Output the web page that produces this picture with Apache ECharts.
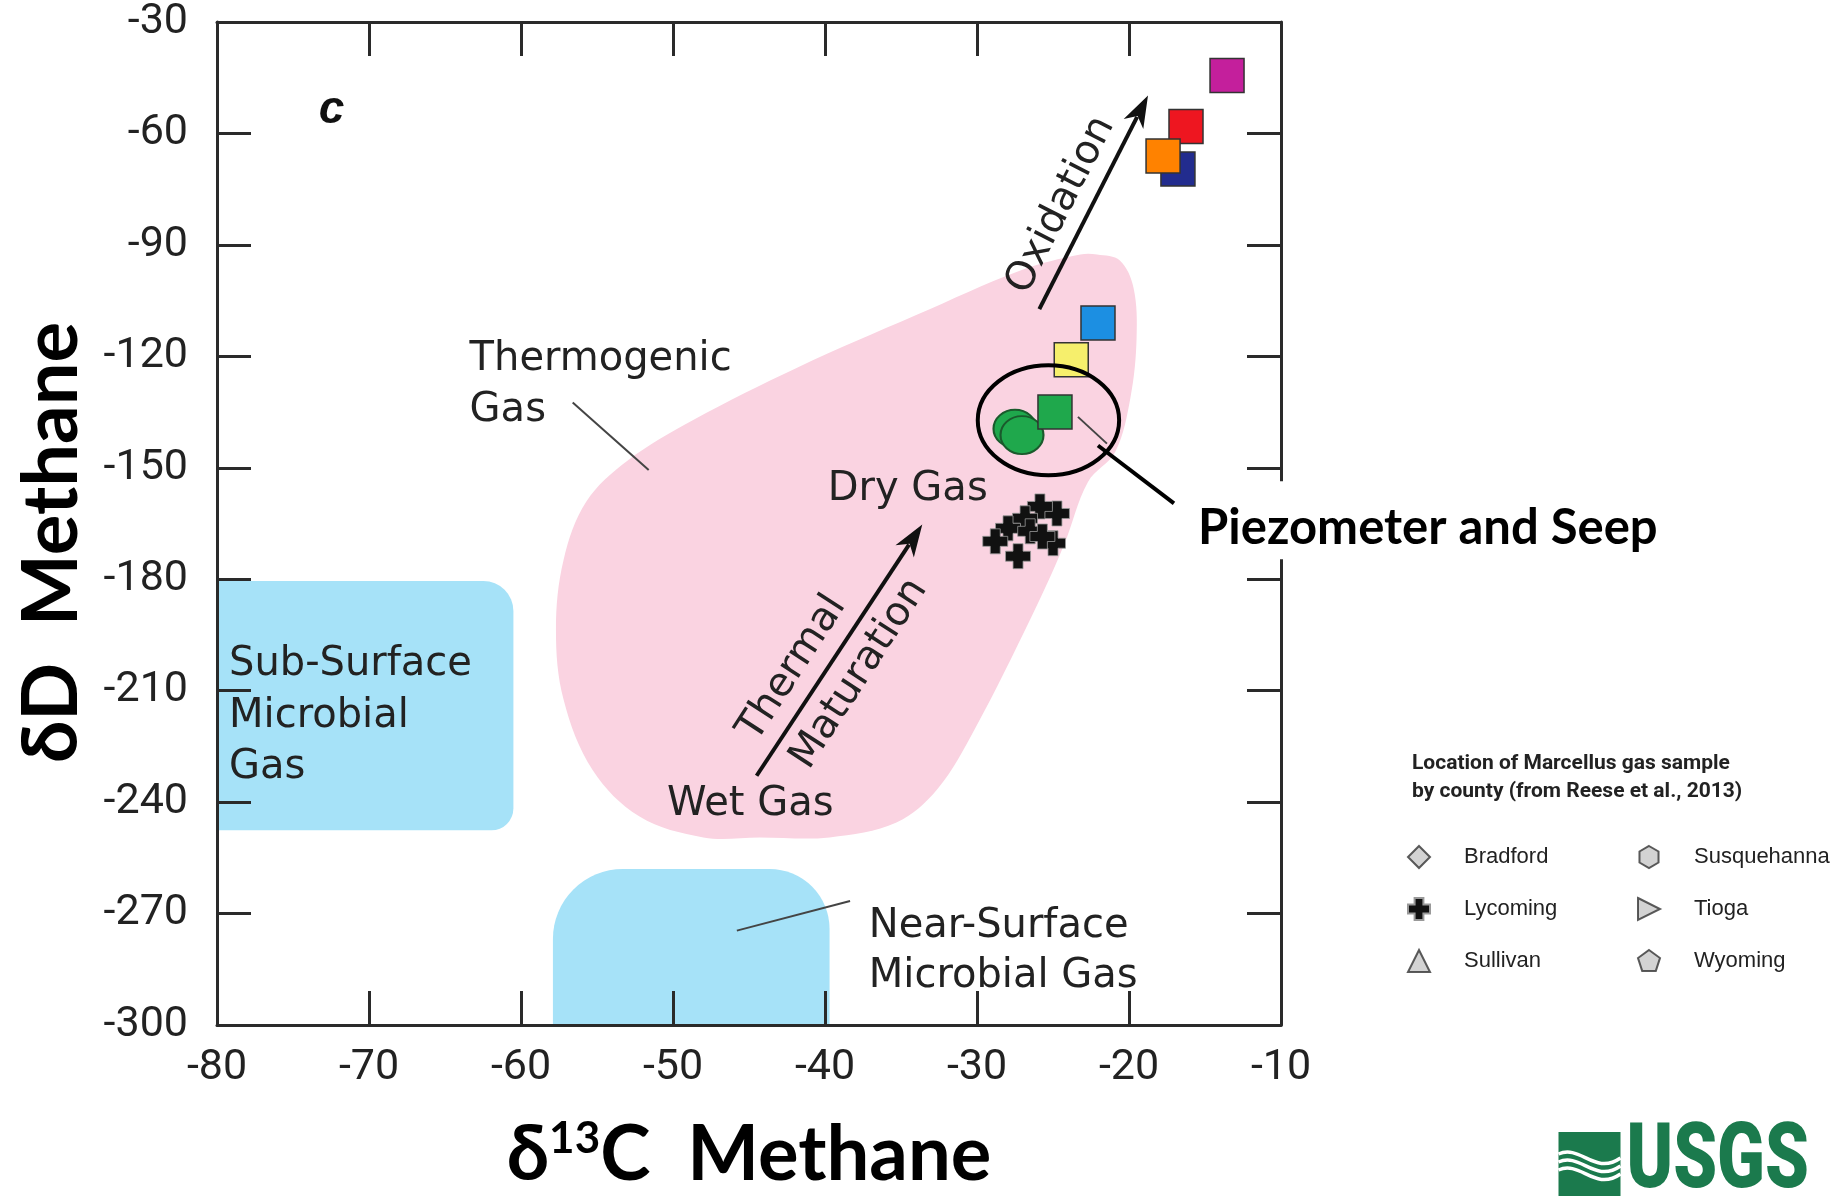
<!DOCTYPE html>
<html>
<head>
<meta charset="utf-8">
<script src="https://cdn.jsdelivr.net/npm/echarts@6/dist/echarts.min.js"></script>
<style>
html,body{margin:0;padding:0;background:#ffffff;}
#chart{width:1841px;height:1198px;}
</style>
</head>
<body>
<div id="chart"></div>
<script>
// ---------------- DATA ----------------
const xTicks = [-80, -70, -60, -50, -40, -30, -20, -10];
const yTicks = [-300, -270, -240, -210, -180, -150, -120, -90, -60, -30];

// Piezometer / seep samples (squares), drawn in this order
const sampleX = [-13.55, -16.25, -16.78, -17.76, -22.04, -23.8, -24.87];
const sampleY = [-44.4, -58.1, -69.6, -66.1, -111.0, -120.9, -135.0];
// Seep samples (circles)
const seepX = [-27.5, -27.04];
const seepY = [-139.5, -141.2];
// Lycoming county Marcellus gas (Reese et al., 2013)
const lycomingX = [-24.74, -25.86, -26.84, -27.96, -25.0, -27.3, -28.8, -26.5, -25.7];
const lycomingY = [-162.3, -160.4, -163.6, -166.3, -170.3, -173.8, -169.8, -167.1, -168.5];
// Counties without points in this panel
const bradfordX = [], bradfordY = [];
const sullivanX = [], sullivanY = [];
const susquehannaX = [], susquehannaY = [];
const tiogaX = [], tiogaY = [];
const wyomingX = [], wyomingY = [];

// Genetic field outlines (data units)
const thermoX = [-22.1, -20.6, -19.7, -19.5, -19.9, -20.9, -22.7, -24.3, -26.4, -30.1, -32.6, -35.3, -39.7, -44.3, -48.0, -52.2, -55.3, -57.2, -57.7, -57.2, -55.7, -53.0, -48.7, -41.8, -34.0, -27.1, -23.2];
const thermoY = [-92.6, -94.2, -101.6, -115.0, -131.0, -145.7, -153.8, -171.0, -190.0, -220.0, -236.5, -245.5, -249.5, -249.5, -249.5, -243.9, -231.3, -212.4, -193.6, -174.8, -159.1, -148.1, -137.2, -123.0, -108.9, -96.8, -92.6];
const subSurfaceX = [-80, -60.5];
const subSurfaceY = [-180.5, -247.6];
const nearSurfaceX = [-57.9, -39.7];
const nearSurfaceY = [-258, -300];

// ---------------- STYLE ----------------
const sampleColors = ['#c41f9c', '#ee1620', '#222c8e', '#ff8200', '#1c8fe2', '#f6ef6c', '#1fa84c'];
const FONT_TICK = "Roboto,'DejaVu Sans Condensed',sans-serif";
const FONT_ANN = "'DejaVu Sans',sans-serif";
const FONT_BIG = "Lato,'Open Sans',sans-serif";
const AX = '#2a2a2a';
const PINK = '#fad3e1';
const BLUE = '#a6e2f8';
const GRAY = '#c8c8c8';
const USGS_GREEN = '#1b7a4d';

const crossPath = 'path://M6,0H14V6H20V14H14V20H6V14H0V6H6Z';
const hexPath = 'path://M10,0L18.66,5V15L10,20L1.34,15V5Z';
const tioPath = 'path://M0,0L20,10L0,20Z';
const pentPath = 'path://M10,0L20,7.3L16.2,19L3.8,19L0,7.3Z';

// annotation layout (anchored in data space)
const texts = [
  {t: 'Thermogenic', p: [-63.38, -120.8]},
  {t: 'Gas', p: [-63.38, -134.6]},
  {t: 'Dry Gas', p: [-39.82, -155.9]},
  {t: 'Wet Gas', p: [-50.4, -240.7]},
  {t: 'Sub-Surface', p: [-79.21, -203.0]},
  {t: 'Microbial', p: [-79.21, -217.1]},
  {t: 'Gas', p: [-79.21, -230.6]},
  {t: 'Near-Surface', p: [-37.12, -273.6]},
  {t: 'Microbial Gas', p: [-37.12, -287.1]},
  {t: 'Thermal', p: [-42.14, -204.0], rot: 57, align: 'center'},
  {t: 'Maturation', p: [-37.74, -205.5], rot: 57, align: 'center'},
  {t: 'Oxidation', p: [-24.47, -79.3], rot: 63, align: 'center'}
];
const arrows = [
  {from: [-44.5, -232.9], to: [-33.6, -165.3]},
  {from: [-25.9, -107.3], to: [-18.75, -49.8]}
];
const leaders = [
  {from: [-56.6, -132.4], to: [-51.6, -150.6]},
  {from: [-45.8, -274.6], to: [-38.35, -266.6]},
  {from: [-23.36, -136.3], to: [-21.45, -143.5]}
];

function toPairs(xs, ys) { return xs.map((x, i) => [x, ys[i]]); }

function arrowEls(api, p0, p1) {
  const a = api.coord(p0), b = api.coord(p1);
  const dx = b[0] - a[0], dy = b[1] - a[1], L = Math.hypot(dx, dy);
  const ux = dx / L, uy = dy / L, hl = 32, hw = 11;
  const bx = b[0] - ux * hl, by = b[1] - uy * hl;
  return [
    {type: 'line', shape: {x1: a[0], y1: a[1], x2: bx + ux * 8, y2: by + uy * 8}, style: {stroke: '#111', lineWidth: 4}},
    {type: 'polygon', shape: {points: [[b[0], b[1]], [bx - uy * hw, by + ux * hw], [bx + ux * 9, by + uy * 9], [bx + uy * hw, by - ux * hw]]}, style: {fill: '#111'}}
  ];
}

const chart = echarts.init(document.getElementById('chart'));

const axisCommon = {
  type: 'value',
  min: xTicks[0], max: xTicks[xTicks.length - 1], interval: xTicks[1] - xTicks[0],
  z: 5,
  axisLine: {show: true, onZero: false, lineStyle: {color: AX, width: 3}},
  axisTick: {show: true, inside: true, length: 34, lineStyle: {color: AX, width: 3}},
  splitLine: {show: false}
};
const yCommon = Object.assign({}, axisCommon, {
  min: yTicks[0], max: yTicks[yTicks.length - 1], interval: yTicks[1] - yTicks[0]
});

const option = {
  backgroundColor: '#ffffff',
  animation: false,
  title: {
    text: 'Location of Marcellus gas sample\nby county (from Reese et al., 2013)',
    left: 1412, top: 750, padding: 0,
    textStyle: {fontFamily: "Roboto,sans-serif", fontWeight: 'bold', fontSize: 21, lineHeight: 28, color: '#222'}
  },
  grid: {left: 217, right: 560, top: 22, bottom: 166, show: false},
  xAxis: [
    Object.assign({}, axisCommon, {
      position: 'bottom',
      axisLabel: {margin: 22, fontFamily: FONT_TICK, fontSize: 43, color: '#222', showMinLabel: true, showMaxLabel: true},
      name: '{a|δ}{s|13}{a|C  Methane}',
      nameLocation: 'middle', nameGap: 92,
      nameTextStyle: {
        rich: {
          a: {fontFamily: FONT_BIG, fontWeight: 'bold', fontSize: 76, color: '#000'},
          s: {fontFamily: FONT_BIG, fontWeight: 'bold', fontSize: 44, color: '#000', verticalAlign: 'top'}
        }
      }
    }),
    Object.assign({}, axisCommon, {position: 'top', axisLabel: {show: false}})
  ],
  yAxis: [
    Object.assign({}, yCommon, {
      position: 'left',
      axisLabel: {margin: 29, fontFamily: FONT_TICK, fontSize: 43, color: '#222', showMinLabel: true, showMaxLabel: true},
      name: 'δD  Methane',
      nameLocation: 'middle', nameRotate: 90, nameGap: 127,
      nameTextStyle: {fontFamily: FONT_BIG, fontWeight: 'bold', fontSize: 76, color: '#000', padding: [0, 38, 0, 0]}
    }),
    Object.assign({}, yCommon, {position: 'right', axisLabel: {show: false}})
  ],
  legend: [
    {
      orient: 'vertical', left: 1407, top: 845, padding: 0,
      itemWidth: 22, itemHeight: 22, itemGap: 28,
      textStyle: {fontFamily: "'Liberation Sans',Arial,sans-serif", fontSize: 22, color: '#222', padding: [0, 0, 0, 29]},
      data: [{name: 'Bradford', icon: 'diamond'}, {name: 'Lycoming', icon: crossPath}, {name: 'Sullivan', icon: 'triangle'}]
    },
    {
      orient: 'vertical', left: 1637, top: 845, padding: 0,
      itemWidth: 22, itemHeight: 22, itemGap: 28,
      textStyle: {fontFamily: "'Liberation Sans',Arial,sans-serif", fontSize: 22, color: '#222', padding: [0, 0, 0, 29]},
      data: [{name: 'Susquehanna', icon: hexPath}, {name: 'Tioga', icon: tioPath}, {name: 'Wyoming', icon: pentPath}]
    }
  ],
  graphic: [
    {
      type: 'group', left: 1556, top: 1119, silent: true,
      children: [
        {type: 'rect', shape: {x: 0, y: 0, width: 62, height: 64}, style: {fill: USGS_GREEN}},
        {type: 'bezierCurve', shape: {x1: 0, y1: 22, cpx1: 22, cpy1: 12, cpx2: 36, cpy2: 44, x2: 62, y2: 26}, style: {stroke: '#fff', lineWidth: 3.5, fill: null}},
        {type: 'bezierCurve', shape: {x1: 0, y1: 30, cpx1: 22, cpy1: 20, cpx2: 36, cpy2: 52, x2: 62, y2: 34}, style: {stroke: '#fff', lineWidth: 3.5, fill: null}},
        {type: 'bezierCurve', shape: {x1: 0, y1: 38, cpx1: 22, cpy1: 28, cpx2: 36, cpy2: 60, x2: 62, y2: 42}, style: {stroke: '#fff', lineWidth: 3.5, fill: null}},
        {type: 'text', x: 68, y: 32, scaleX: 0.78, style: {text: 'USGS', font: "900 90px Roboto", fill: USGS_GREEN, verticalAlign: 'middle'}},
        {type: 'text', x: 0, y: 68, scaleX: 0.8, style: {text: 'science for a changing world', font: "italic bold 24px Roboto", fill: USGS_GREEN, verticalAlign: 'top'}}
      ]
    }
  ],
  series: [
    {
      type: 'custom', name: 'Thermogenic Gas', z: 1, silent: true,
      data: [[thermoX[0], thermoY[0]]],
      renderItem: (params, api) => ({
        type: 'polygon',
        shape: {points: thermoX.map((x, i) => api.coord([x, thermoY[i]])), smooth: 0.35},
        style: {fill: PINK}
      })
    },
    {
      type: 'custom', name: 'Microbial Gas', z: 1, silent: true,
      data: [[subSurfaceX[0], subSurfaceY[0]]],
      renderItem: (params, api) => {
        const a = api.coord([subSurfaceX[0], subSurfaceY[0]]), b = api.coord([subSurfaceX[1], subSurfaceY[1]]);
        const c = api.coord([nearSurfaceX[0], nearSurfaceY[0]]), d = api.coord([nearSurfaceX[1], nearSurfaceY[1]]);
        return {type: 'group', children: [
          {type: 'rect', shape: {x: a[0], y: a[1], width: b[0] - a[0], height: b[1] - a[1], r: [0, 30, 22, 0]}, style: {fill: BLUE}},
          {type: 'rect', shape: {x: c[0], y: c[1], width: d[0] - c[0], height: d[1] - c[1], r: [70, 60, 0, 0]}, style: {fill: BLUE}}
        ]};
      }
    },
    {
      type: 'custom', name: 'Annotations', z: 3, silent: true,
      data: [[xTicks[0], yTicks[0]]],
      renderItem: (params, api) => {
        const ch = [];
        texts.forEach(o => {
          const p = api.coord(o.p);
          ch.push({type: 'text', x: p[0], y: p[1], rotation: (o.rot || 0) * Math.PI / 180,
            style: {text: o.t, font: "40px " + FONT_ANN, fill: '#222', align: o.align || 'left', verticalAlign: 'middle'}});
        });
        const cp = api.coord([-73.3, -53.9]);
        ch.push({type: 'text', x: cp[0], y: cp[1], style: {text: 'c', font: "italic bold 46px 'Liberation Sans',Arial", fill: '#111', verticalAlign: 'middle'}});
        arrows.forEach(o => { arrowEls(api, o.from, o.to).forEach(e => ch.push(e)); });
        leaders.forEach(o => {
          const a = api.coord(o.from), b = api.coord(o.to);
          ch.push({type: 'line', shape: {x1: a[0], y1: a[1], x2: b[0], y2: b[1]}, style: {stroke: '#444', lineWidth: 2}});
        });
        return {type: 'group', children: ch};
      }
    },
    {
      type: 'scatter', name: 'Lycoming', z: 6,
      symbol: crossPath, symbolSize: 25,
      itemStyle: {color: '#111', borderColor: '#999', borderWidth: 0.8, opacity: 1},
      data: toPairs(lycomingX, lycomingY)
    },
    {type: 'scatter', name: 'Bradford', symbol: 'diamond', symbolSize: 20, itemStyle: {color: GRAY, borderColor: '#333', borderWidth: 1.5}, data: toPairs(bradfordX, bradfordY)},
    {type: 'scatter', name: 'Sullivan', symbol: 'triangle', symbolSize: 20, itemStyle: {color: GRAY, borderColor: '#333', borderWidth: 1.5}, data: toPairs(sullivanX, sullivanY)},
    {type: 'scatter', name: 'Susquehanna', symbol: hexPath, symbolSize: 20, itemStyle: {color: GRAY, borderColor: '#333', borderWidth: 1.5}, data: toPairs(susquehannaX, susquehannaY)},
    {type: 'scatter', name: 'Tioga', symbol: tioPath, symbolSize: 20, itemStyle: {color: GRAY, borderColor: '#333', borderWidth: 1.5}, data: toPairs(tiogaX, tiogaY)},
    {type: 'scatter', name: 'Wyoming', symbol: pentPath, symbolSize: 20, itemStyle: {color: GRAY, borderColor: '#333', borderWidth: 1.5}, data: toPairs(wyomingX, wyomingY)},
    {
      type: 'scatter', name: 'Seep', z: 7,
      symbol: 'circle', symbolSize: [43, 38],
      itemStyle: {color: '#1fa84c', borderColor: '#1a5a2c', borderWidth: 2, opacity: 1},
      data: toPairs(seepX, seepY)
    },
    {
      type: 'scatter', name: 'Piezometer', z: 8,
      symbol: 'rect', symbolSize: 34,
      itemStyle: {borderColor: '#333', borderWidth: 1.5, opacity: 1},
      data: sampleX.map((x, i) => ({value: [x, sampleY[i]], itemStyle: {color: sampleColors[i]}}))
    },
    {
      type: 'custom', name: 'Piezometer label', z: 10, silent: true,
      data: [[-25.3, -137.2]],
      renderItem: (params, api) => {
        const c = api.coord([-25.3, -137.2]);
        const s = api.size([4.65, 14.8]);
        const t = api.coord([-15.46, -166.3]);
        const l0 = api.coord([-22.04, -144.0]), l1 = api.coord([-17.04, -159.6]);
        return {type: 'group', children: [
          {type: 'ellipse', shape: {cx: c[0], cy: c[1], rx: s[0], ry: s[1]}, style: {stroke: '#000', lineWidth: 4, fill: null}},
          {type: 'rect', shape: {x: t[0] - 108, y: t[1] - 47, width: 600, height: 78}, style: {fill: '#fff'}},
          {type: 'line', shape: {x1: l0[0], y1: l0[1], x2: l1[0], y2: l1[1]}, style: {stroke: '#000', lineWidth: 4}},
          {type: 'text', x: t[0], y: t[1], style: {text: 'Piezometer and Seep', font: "bold 49px " + FONT_BIG, fill: '#000', verticalAlign: 'middle'}}
        ]};
      }
    }
  ]
};
chart.setOption(option);
</script>
</body>
</html>
